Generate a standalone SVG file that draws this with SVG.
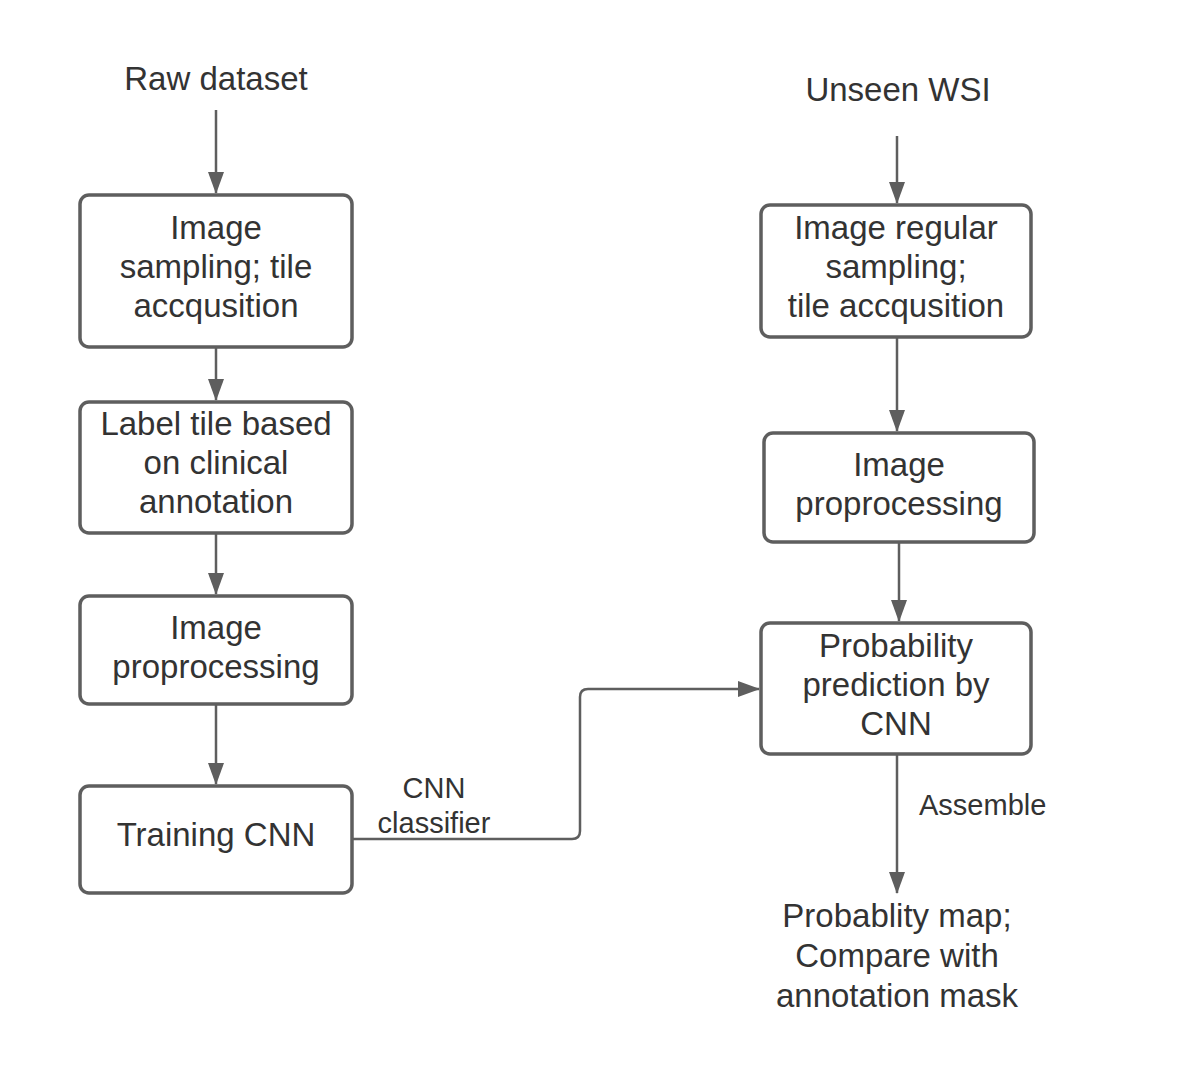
<svg xmlns="http://www.w3.org/2000/svg" width="1201" height="1080" viewBox="0 0 1201 1080">
<style>
.box{fill:#fff;stroke:#5e5e5e;stroke-width:3.5}
.t{font-family:"Liberation Sans",Arial,sans-serif;font-size:33px;fill:#333;text-anchor:middle}
.s{font-family:"Liberation Sans",Arial,sans-serif;font-size:29px;fill:#333}
.c{fill:none;stroke:#5e5e5e;stroke-width:2.5}
</style>
<defs>
<marker id="a" markerWidth="22" markerHeight="16" refX="21" refY="8" orient="auto" markerUnits="userSpaceOnUse" viewBox="0 0 22 16">
<path d="M0,0 L22,8 L0,16 Z" fill="#5e5e5e"/>
</marker>
</defs>
<rect width="1201" height="1080" fill="#fff"/>
<g id="connectors">
<path class="c" d="M216,110 V193" marker-end="url(#a)"/>
<path class="c" d="M216,347 V400" marker-end="url(#a)"/>
<path class="c" d="M216,533 V594" marker-end="url(#a)"/>
<path class="c" d="M216,704 V784" marker-end="url(#a)"/>
<path class="c" d="M352,839 H572 Q580,839 580,831 V697 Q580,689 588,689 H759" marker-end="url(#a)"/>
<path class="c" d="M897,136 V203" marker-end="url(#a)"/>
<path class="c" d="M897,337 V431" marker-end="url(#a)"/>
<path class="c" d="M899,542 V621" marker-end="url(#a)"/>
<path class="c" d="M897,754 V893" marker-end="url(#a)"/>
<text class="s" x="434" y="798" text-anchor="middle">CNN</text>
<text class="s" x="434" y="833" text-anchor="middle">classifier</text>
<text class="s" x="919" y="815">Assemble</text>
</g>
<g id="raw"><text class="t" x="216" y="90">Raw dataset</text></g>
<g id="n1"><rect class="box" x="80" y="195" width="272" height="152" rx="9"/>
<text class="t" x="216" y="239">Image</text><text class="t" x="216" y="278">sampling; tile</text><text class="t" x="216" y="317">accqusition</text></g>
<g id="n2"><rect class="box" x="80" y="402" width="272" height="131" rx="9"/>
<text class="t" x="216" y="435">Label tile based</text><text class="t" x="216" y="474">on clinical</text><text class="t" x="216" y="513">annotation</text></g>
<g id="n3"><rect class="box" x="80" y="596" width="272" height="108" rx="9"/>
<text class="t" x="216" y="639">Image</text><text class="t" x="216" y="678">proprocessing</text></g>
<g id="n4"><rect class="box" x="80" y="786" width="272" height="107" rx="9"/>
<text class="t" x="216" y="846">Training CNN</text></g>
<g id="unseen"><text class="t" x="898" y="101">Unseen WSI</text></g>
<g id="r1"><rect class="box" x="761" y="205" width="270" height="132" rx="9"/>
<text class="t" x="896" y="239">Image regular</text><text class="t" x="896" y="278">sampling;</text><text class="t" x="896" y="317">tile accqusition</text></g>
<g id="r2"><rect class="box" x="764" y="433" width="270" height="109" rx="9"/>
<text class="t" x="899" y="476">Image</text><text class="t" x="899" y="515">proprocessing</text></g>
<g id="r3"><rect class="box" x="761" y="623" width="270" height="131" rx="9"/>
<text class="t" x="896" y="657">Probability</text><text class="t" x="896" y="696">prediction by</text><text class="t" x="896" y="735">CNN</text></g>
<g id="out"><text class="t" x="897" y="927">Probablity map;</text><text class="t" x="897" y="967">Compare with</text><text class="t" x="897" y="1007">annotation mask</text></g>
</svg>
